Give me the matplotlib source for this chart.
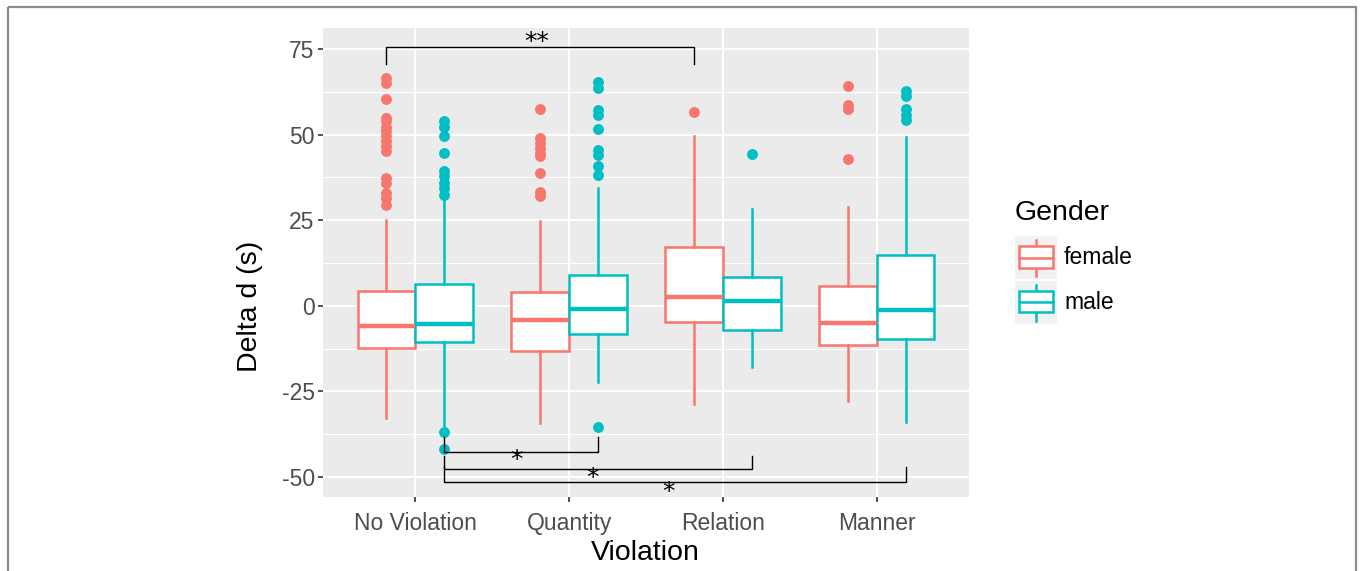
import matplotlib
matplotlib.use('Agg')
import matplotlib.pyplot as plt
from matplotlib.patches import Rectangle

plt.rcParams.update({
    'font.family': ['Liberation Sans', 'DejaVu Sans'],
    'axes.unicode_minus': False,
})

# ── data ─────────────────────────────────────────────────────────────────────
violations = ['No Violation', 'Quantity', 'Relation', 'Manner']
genders = ['female', 'male']
colors = {'female': '#F8766D', 'male': '#00BFC4'}

# per violation: q1, median, q3, lower whisker, upper whisker
female_q1 = [-12.2, -13.1, -4.8, -11.4]
female_med = [-5.8, -4.3, 2.5, -4.9]
female_q3 = [4.2, 3.9, 17.2, 5.8]
female_lo = [-32.7, -34.3, -28.7, -27.7]
female_hi = [25.1, 24.7, 49.5, 29.0]
female_out = [
    [66.6, 65.1, 60.5, 54.9, 53.9, 52.4, 51.0, 49.5, 48.1, 46.6, 45.1,
     37.3, 35.9, 33.0, 31.5, 29.5],
    [57.5, 49.0, 47.6, 46.1, 44.6, 43.7, 38.8, 33.4, 32.0],
    [56.6],
    [64.3, 58.8, 57.5, 42.9],
]

male_q1 = [-10.7, -8.3, -7.2, -9.7]
male_med = [-5.4, -0.9, 1.4, -1.2]
male_q3 = [6.3, 8.9, 8.4, 14.9]
male_lo = [-35.3, -22.4, -17.9, -34.0]
male_hi = [31.0, 34.4, 28.4, 49.3]
male_out = [
    [53.9, 52.4, 49.5, 44.6, 39.3, 37.8, 35.9, 34.4, 32.5, -37.0, -41.8],
    [65.3, 63.6, 57.3, 55.8, 51.8, 45.4, 44.2, 40.9, 38.1, -35.5],
    [44.3],
    [62.9, 61.2, 57.5, 55.8, 54.4],
]

# significance brackets: group from, group to, line y, tip y, label, label pos
sig_from = [(0, 'female'), (0, 'male'), (0, 'male'), (0, 'male')]
sig_to = [(2, 'female'), (1, 'male'), (2, 'male'), (3, 'male')]
sig_line_y = [75.5, -42.7, -47.7, -51.6]
sig_tip_y = [70.6, -38.3, -43.9, -47.2]
sig_labels = ['**', '*', '*', '*']
sig_label_x = [1.79, 1.66, 2.15, 2.645]
sig_label_y = [77.0, -45.2, -50.2, -54.4]

# ── figure ───────────────────────────────────────────────────────────────────
W, H = 1360, 571
fig = plt.figure(figsize=(W / 100, H / 100), dpi=100)
ax = fig.add_axes([323 / W, 1 - 497 / H, (969 - 323) / W, (497 - 28) / H])
ax.set_facecolor('#EBEBEB')
for s in ax.spines.values():
    s.set_visible(False)

dodge = 0.1875
bw = 0.375
stats = {
    'female': (female_q1, female_med, female_q3, female_lo, female_hi, female_out),
    'male': (male_q1, male_med, male_q3, male_lo, male_hi, male_out),
}

def xpos(i, g):
    return i + 1 + (-dodge if g == 'female' else dodge)

for g in genders:
    q1, med, q3, lo, hi, out = stats[g]
    bstats = [dict(q1=q1[i], med=med[i], q3=q3[i], whislo=lo[i], whishi=hi[i],
                   fliers=out[i]) for i in range(len(violations))]
    c = colors[g]
    ax.bxp(bstats, positions=[xpos(i, g) for i in range(len(violations))],
           widths=bw, patch_artist=True, showcaps=False,
           boxprops=dict(facecolor='white', edgecolor=c, linewidth=1.8),
           medianprops=dict(color=c, linewidth=3.2, solid_capstyle='butt'),
           whiskerprops=dict(color=c, linewidth=1.8),
           flierprops=dict(marker='o', markerfacecolor=c, markeredgecolor=c,
                           markersize=6.8, linestyle='none'),
           zorder=3)

ax.set_xlim(0.4, 4.6)
ax.set_ylim(-55.9, 81.2)
ax.set_xticks(range(1, len(violations) + 1))
ax.set_xticklabels(violations)
ax.set_yticks([-50, -25, 0, 25, 50, 75])
ax.set_yticks([-37.5, -12.5, 12.5, 37.5, 62.5], minor=True)
ax.grid(which='major', color='white', linewidth=1.5, zorder=0)
ax.grid(which='minor', axis='y', color='white', linewidth=0.75, zorder=0)
ax.set_axisbelow(True)
ax.tick_params(which='major', length=3.5, width=1.2, color='#333333',
               labelsize=16.5, labelcolor='#4D4D4D', pad=2.5)
ax.tick_params(axis='x', which='major', pad=7.5)
ax.tick_params(which='minor', length=0)

# significance brackets
for (fi, fg), (ti, tg), ly, ty, lab, lx, lyy in zip(sig_from, sig_to, sig_line_y,
                                                    sig_tip_y, sig_labels,
                                                    sig_label_x, sig_label_y):
    x1, x2 = xpos(fi, fg), xpos(ti, tg)
    ax.plot([x1, x1, x2, x2], [ty, ly, ly, ty], color='black', linewidth=1.0,
            zorder=4)
    ax.text(lx, lyy, lab, ha='center', va='center', fontsize=18,
            family='DejaVu Sans', zorder=5)

fig.text(250 / W, 1 - 306 / H, 'Delta d (s)', rotation=90, ha='center',
         va='center', fontsize=20.5)
fig.text(645 / W, 1 - 553 / H, 'Violation', ha='center', va='center',
         fontsize=20.5)

# overlay in pixel coordinates: legend and frame
ov = fig.add_axes([0, 0, 1, 1], facecolor='none')
ov.set_xlim(0, W)
ov.set_ylim(H, 0)
ov.axis('off')
ov.add_patch(Rectangle((7.5, 7), 1348, 600, facecolor='none',
                       edgecolor='#8C8C8C', linewidth=1.6))

ov.text(1015, 213, 'Gender', ha='left', va='center', fontsize=20.5)
key_top = [236, 280.5]
for g, kt in zip(genders, key_top):
    c = colors[g]
    ov.add_patch(Rectangle((1015, kt), 42, 43, facecolor='#F2F2F2',
                           edgecolor='none'))
    ov.plot([1036, 1036], [kt + 4, kt + 40], color=c, linewidth=1.8)
    ov.add_patch(Rectangle((1019, kt + 10), 34, 21.5, facecolor='white',
                           edgecolor=c, linewidth=1.8, zorder=3))
    ov.plot([1019, 1053], [kt + 21.5, kt + 21.5], color=c, linewidth=1.8,
            zorder=4)
    ov.text(1064, kt + 22, g, ha='left', va='center', fontsize=16.5)

fig.savefig('out.png', dpi=100)
